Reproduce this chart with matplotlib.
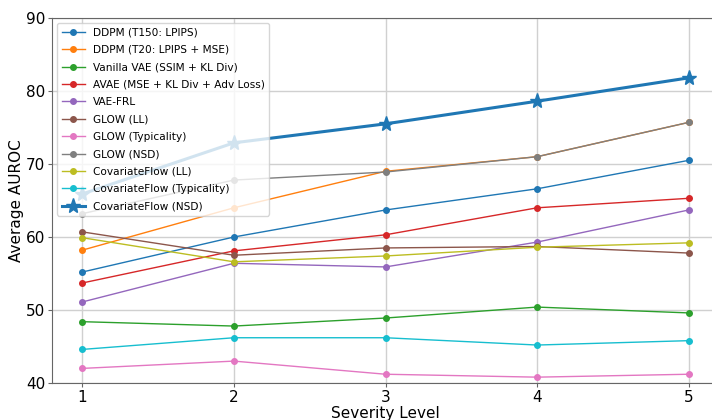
import matplotlib
matplotlib.use("Agg")
import matplotlib.pyplot as plt

severity = [1, 2, 3, 4, 5]

ddpm_t150 = [55.2, 60.0, 63.7, 66.6, 70.5]
ddpm_t20 = [58.2, 64.0, 69.0, 71.0, 75.7]
vanilla_vae = [48.4, 47.8, 48.9, 50.4, 49.6]
avae = [53.7, 58.1, 60.3, 64.0, 65.3]
vae_frl = [51.1, 56.4, 55.9, 59.3, 63.7]
glow_ll = [60.7, 57.5, 58.5, 58.7, 57.8]
glow_typ = [42.0, 43.0, 41.2, 40.8, 41.2]
glow_nsd = [63.2, 67.8, 68.9, 71.0, 75.7]
cflow_ll = [59.9, 56.6, 57.4, 58.6, 59.2]
cflow_typ = [44.6, 46.2, 46.2, 45.2, 45.8]
cflow_nsd = [65.9, 72.9, 75.5, 78.6, 81.8]

series = [
    ("DDPM (T150: LPIPS)", ddpm_t150),
    ("DDPM (T20: LPIPS + MSE)", ddpm_t20),
    ("Vanilla VAE (SSIM + KL Div)", vanilla_vae),
    ("AVAE (MSE + KL Div + Adv Loss)", avae),
    ("VAE-FRL", vae_frl),
    ("GLOW (LL)", glow_ll),
    ("GLOW (Typicality)", glow_typ),
    ("GLOW (NSD)", glow_nsd),
    ("CovariateFlow (LL)", cflow_ll),
    ("CovariateFlow (Typicality)", cflow_typ),
]

fig = plt.figure(figsize=(7.12, 4.2), dpi=100)
# axes run slightly past the right edge, like the cropped original
ax = fig.add_axes([52 / 712, 37 / 420, 667 / 712, 365 / 420])

for label, vals in series:
    ax.plot(severity, vals, marker="o", markersize=4, linewidth=1, label=label)

ax.plot(severity, cflow_nsd, marker="*", markersize=11, linewidth=2.2,
        color="#1f77b4", label="CovariateFlow (NSD)")

ax.set_xlim(0.8, 5.2)
ax.set_ylim(40, 90)
ax.set_xticks(severity)
ax.tick_params(labelsize=11, length=3, pad=2, color="#666666")
ax.set_xlabel("Severity Level", fontsize=11, labelpad=1)
ax.set_ylabel("Average AUROC", fontsize=11, labelpad=1)
ax.grid(True, color="#d0d0d0", linewidth=1)
ax.set_axisbelow(True)
for s in ax.spines.values():
    s.set_color("#666666")

ax.legend(loc="upper left", fontsize=7.6, labelspacing=0.7, handlelength=2.2)

fig.savefig("out.png", dpi=100)
